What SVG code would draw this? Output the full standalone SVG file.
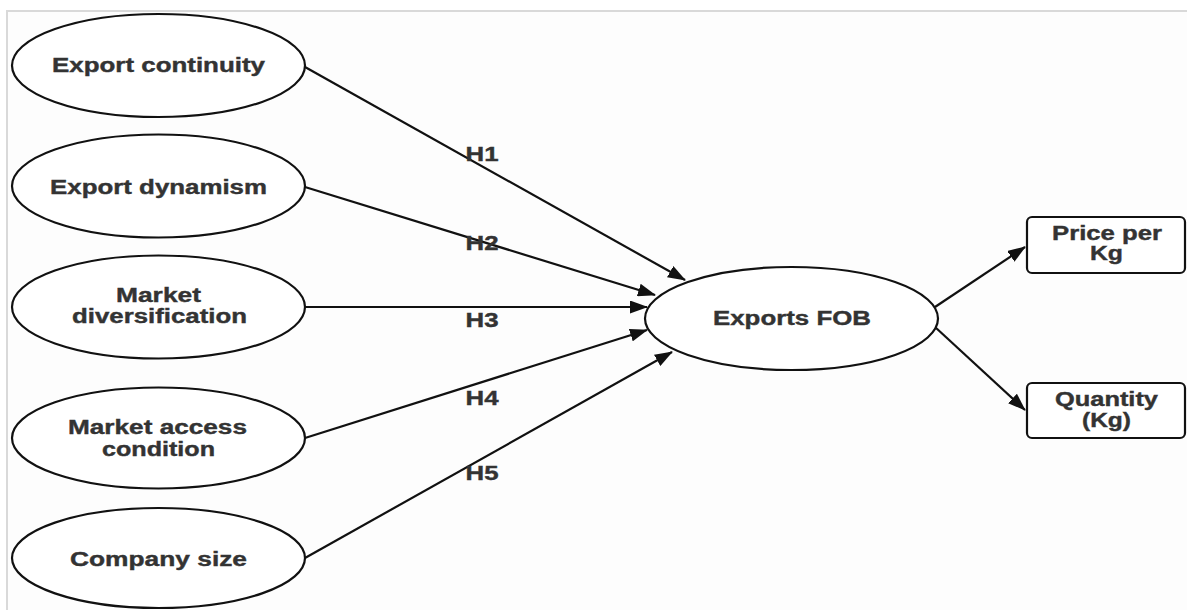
<svg xmlns="http://www.w3.org/2000/svg" width="1187" height="610" viewBox="0 0 1187 610">
  <style>
    .node { fill: #ffffff; stroke: #111111; stroke-width: 2.2; }
    .edge { stroke: #111111; stroke-width: 2.2; fill: none; marker-end: url(#arrow); }
    .lbl { font-family: "Liberation Sans", Arial, sans-serif; font-weight: bold; font-size: 20px; fill: #333333; stroke: #333333; stroke-width: 0.4; text-anchor: middle; }
    .frame { stroke: #d9d9d9; stroke-width: 2; fill: none; }
  </style>
  <defs>
    <marker id="arrow" markerUnits="userSpaceOnUse" markerWidth="19" markerHeight="13" refX="17" refY="6.5" orient="auto">
      <path d="M0,0 L18,6.5 L0,13 Z" fill="#111111"/>
    </marker>
  </defs>

  <rect x="0" y="0" width="1187" height="610" fill="#ffffff"/>
  <rect x="7" y="11" width="1180" height="599" fill="#fdfdfd"/>
  <path class="frame" d="M7,610 L7,11 L1187,11"/>

  <!-- connectors -->
  <g id="connectors">
    <line class="edge" x1="305" y1="67" x2="685" y2="280"/>
    <line class="edge" x1="305" y1="187" x2="655" y2="295"/>
    <line class="edge" x1="305" y1="307" x2="647" y2="307"/>
    <line class="edge" x1="305" y1="438" x2="647" y2="330"/>
    <line class="edge" x1="305" y1="558" x2="672" y2="352"/>
    <line class="edge" x1="935" y1="307" x2="1025" y2="247"/>
    <line class="edge" x1="935" y1="327" x2="1025" y2="410"/>
    <text class="lbl" x="482" y="161" textLength="33" lengthAdjust="spacingAndGlyphs">H1</text>
    <text class="lbl" x="482" y="250" textLength="33" lengthAdjust="spacingAndGlyphs">H2</text>
    <text class="lbl" x="482" y="327" textLength="33" lengthAdjust="spacingAndGlyphs">H3</text>
    <text class="lbl" x="482" y="405" textLength="33" lengthAdjust="spacingAndGlyphs">H4</text>
    <text class="lbl" x="482" y="480" textLength="33" lengthAdjust="spacingAndGlyphs">H5</text>
  </g>

  <g id="export-continuity">
    <ellipse class="node" cx="158.5" cy="65.5" rx="146.5" ry="51.5"/>
    <text class="lbl" x="158.5" y="72" textLength="213" lengthAdjust="spacingAndGlyphs">Export continuity</text>
  </g>
  <g id="export-dynamism">
    <ellipse class="node" cx="158.5" cy="186" rx="146.5" ry="51.5"/>
    <text class="lbl" x="158.5" y="194" textLength="217" lengthAdjust="spacingAndGlyphs">Export dynamism</text>
  </g>
  <g id="market-diversification">
    <ellipse class="node" cx="158.5" cy="307" rx="146.5" ry="51.5"/>
    <text class="lbl" x="158.5" y="302" textLength="85" lengthAdjust="spacingAndGlyphs">Market</text>
    <text class="lbl" x="159.5" y="323" textLength="175" lengthAdjust="spacingAndGlyphs">diversification</text>
  </g>
  <g id="market-access-condition">
    <ellipse class="node" cx="158.5" cy="438" rx="146.5" ry="50.5"/>
    <text class="lbl" x="157.5" y="434" textLength="179" lengthAdjust="spacingAndGlyphs">Market access</text>
    <text class="lbl" x="158.5" y="456" textLength="113" lengthAdjust="spacingAndGlyphs">condition</text>
  </g>
  <g id="company-size">
    <ellipse class="node" cx="158.5" cy="558" rx="146.5" ry="50"/>
    <text class="lbl" x="158.5" y="566" textLength="177" lengthAdjust="spacingAndGlyphs">Company size</text>
  </g>
  <g id="exports-fob">
    <ellipse class="node" cx="791.5" cy="318.5" rx="146.5" ry="51.5"/>
    <text class="lbl" x="792" y="325" textLength="158" lengthAdjust="spacingAndGlyphs">Exports FOB</text>
  </g>
  <g id="price-per-kg">
    <rect class="node" x="1027" y="217" width="158" height="56" rx="5"/>
    <text class="lbl" x="1107" y="240" textLength="110" lengthAdjust="spacingAndGlyphs">Price per</text>
    <text class="lbl" x="1106.5" y="260" textLength="33" lengthAdjust="spacingAndGlyphs">Kg</text>
  </g>
  <g id="quantity-kg">
    <rect class="node" x="1027" y="383" width="158" height="55" rx="5"/>
    <text class="lbl" x="1106.5" y="406" textLength="103" lengthAdjust="spacingAndGlyphs">Quantity</text>
    <text class="lbl" x="1106.5" y="427" textLength="49" lengthAdjust="spacingAndGlyphs">(Kg)</text>
  </g>
</svg>
